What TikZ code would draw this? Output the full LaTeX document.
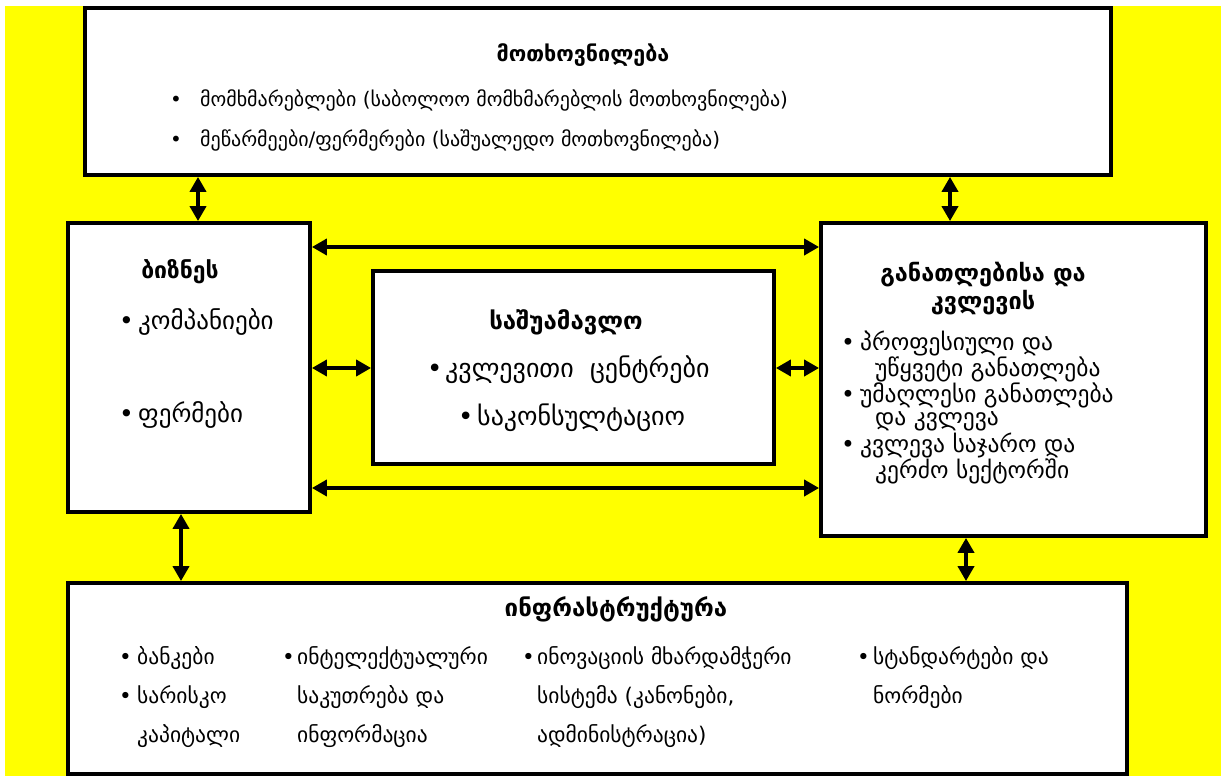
\documentclass[tikz,border=0pt]{standalone}
\usepackage{fontspec}
\setmainfont{DejaVu Sans}
\usetikzlibrary{arrows.meta,calc}
\definecolor{bgyellow}{RGB}{255,255,0}
\newcommand{\bul}[1]{\makebox[#1][l]{•}}
\begin{document}
\begin{tikzpicture}[x=1pt,y=-1pt,
  box/.style={draw=black, line width=3.8pt, fill=white, inner sep=0pt},
  dbl/.style={line width=4pt, {Triangle[length=15pt,width=16pt]}-{Triangle[length=15pt,width=16pt]}},
  ttl/.style={font=\bfseries\fontsize{#1}{#1}\selectfont, anchor=center, inner sep=0pt},
  itm/.style={font=\fontsize{#1}{#1}\selectfont, anchor=west, inner sep=0pt}
]
\useasboundingbox (0,0) rectangle (1221,776);
\fill[white] (0,0) rectangle (1221,776);
\fill[bgyellow] (5,6) rectangle (1221,776);

% boxes
\node[box, minimum width=1026pt, minimum height=167pt] (top) at (598,91.5) {};
\node[box, minimum width=242pt, minimum height=289pt] (left) at (189,367.5) {};
\node[box, minimum width=385pt, minimum height=313pt] (right) at (1013.5,379.5) {};
\node[box, minimum width=401pt, minimum height=193pt] (mid) at (573.5,367.5) {};
\node[box, minimum width=1059pt, minimum height=191pt] (bot) at (597.5,678.5) {};

% arrows
\draw[dbl] (top.south -| 198,0) -- (left.north -| 198,0);
\draw[dbl] (top.south -| 950,0) -- (right.north -| 950,0);
\draw[dbl] (left.east |- 0,247) -- (right.west |- 0,247);
\draw[dbl] (left.east |- 0,488) -- (right.west |- 0,488);
\draw[dbl] (left.east |- 0,368) -- (mid.west |- 0,368);
\draw[dbl] (mid.east |- 0,368) -- (right.west |- 0,368);
\draw[dbl] (left.south -| 181,0) -- (bot.north -| 181,0);
\draw[dbl] (right.south -| 966,0) -- (bot.north -| 966,0);

% top box text
\node[ttl=21.5] (t0) at (583,55) {მოთხოვნილება};
\node[itm=20] (t1) at (170,100) {\bul{30pt}მომხმარებლები (საბოლოო მომხმარებლის მოთხოვნილება)};
\node[itm=20] (t2) at (170,140) {\bul{30pt}მეწარმეები/ფერმერები (საშუალედო მოთხოვნილება)};

% business
\node[ttl=23] (l0) at (180,272) {ბიზნეს};
\node[itm=25] (l1) at (119,322) {\bul{19pt}კომპანიები};
\node[itm=25] (l2) at (119,415) {\bul{19pt}ფერმები};

% middle
\node[ttl=24] (m0) at (566,322) {საშუამავლო};
\node[itm=26] (m1) at (427,370) {\bul{18pt}კვლევითი\hspace{8pt} ცენტრები};
\node[itm=26] (m2) at (458,418) {\bul{19pt}საკონსულტაციო};

% right
\node[ttl=23.5] (r0) at (983,275) {განათლებისა და};
\node[ttl=23.5] (r0b) at (983,303) {კვლევის};
\node[itm=23.5] (r1) at (841,343) {\bul{19pt}პროფესიული და};
\node[itm=23.5] (r1b) at (875,369) {უწყვეტი განათლება};
\node[itm=23.5] (r2) at (841,395) {\bul{19pt}უმაღლესი განათლება};
\node[itm=23.5] (r2b) at (875,421) {და კვლევა};
\node[itm=23.5] (r3) at (841,445) {\bul{19pt}კვლევა საჯარო და};
\node[itm=23.5] (r3b) at (875,471) {კერძო სექტორში};

% bottom
\node[ttl=24] (b0) at (616,609) {ინფრასტრუქტურა};
\node[itm=21.5] (b1) at (119,658) {\bul{18pt}ბანკები};
\node[itm=21.5] (b2) at (119,697) {\bul{18pt}სარისკო};
\node[itm=21.5] (b3) at (137,736) {კაპიტალი};
\node[itm=21.5] (b4) at (282,658) {\bul{15pt}ინტელექტუალური};
\node[itm=21.5] (b5) at (297,697) {საკუთრება და};
\node[itm=21.5] (b6) at (297,736) {ინფორმაცია};
\node[itm=21.5] (b7) at (522,658) {\bul{15pt}ინოვაციის მხარდამჭერი};
\node[itm=21.5] (b8) at (537,697) {სისტემა (კანონები,};
\node[itm=21.5] (b9) at (537,736) {ადმინისტრაცია)};
\node[itm=21.5] (b10) at (857,658) {\bul{16pt}სტანდარტები და};
\node[itm=21.5] (b11) at (873,697) {ნორმები};
\end{tikzpicture}
\end{document}
